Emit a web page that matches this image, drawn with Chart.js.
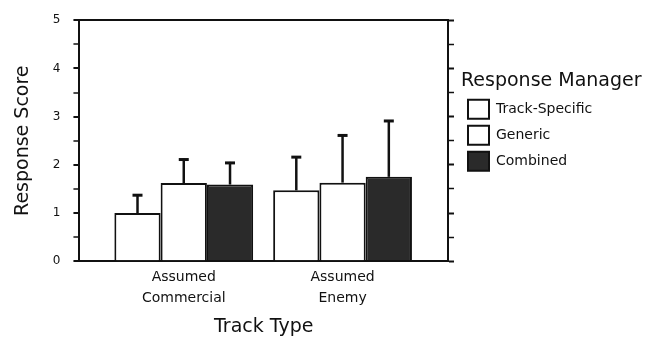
<!DOCTYPE html>
<html>
<head>
<meta charset="utf-8">
<script src="https://cdn.jsdelivr.net/npm/chart.js@4.4.1/dist/chart.umd.min.js"></script>
<style>
  html, body { margin: 0; padding: 0; background: #fff; }
  #wrap { width: 649px; height: 340px; }
</style>
</head>
<body>
<div id="wrap"><canvas id="chart"></canvas></div>
<script>
// data
const categories = [['Assumed', 'Commercial'], ['Assumed', 'Enemy']];
const seriesNames = ['Track-Specific', 'Generic', 'Combined'];
const trackSpecific = [1.00, 1.47];
const generic = [1.62, 1.63];
const combined = [1.59, 1.75];
// top of each error bar
const trackSpecificErr = [1.39, 2.18];
const genericErr = [2.13, 2.63];
const combinedErr = [2.06, 2.93];

const ink = '#111';
const font = 'DejaVu Sans';

// upward error bars with a flat cap
const errorBars = {
    id: 'errorBars',
    afterDatasetsDraw(chart) {
        const ctx = chart.ctx;
        const y = chart.scales.y;
        ctx.save();
        ctx.strokeStyle = ink;
        chart.data.datasets.forEach((ds, di) => {
            chart.getDatasetMeta(di).data.forEach((bar, i) => {
                const top = y.getPixelForValue(ds.errTop[i]);
                ctx.lineWidth = 2.5;
                ctx.beginPath();
                ctx.moveTo(bar.x, bar.y);
                ctx.lineTo(bar.x, top);
                ctx.stroke();
                ctx.lineWidth = 3;
                ctx.beginPath();
                ctx.moveTo(bar.x - 5, top + 1);
                ctx.lineTo(bar.x + 5, top + 1);
                ctx.stroke();
            });
        });
        ctx.restore();
    }
};

// legend box wide enough for its title (otherwise it gets clipped)
const wideLegend = {
    id: 'wideLegend',
    beforeLayout(chart) {
        const legend = chart.legend;
        if (!legend || legend._wide) return;
        const fit = legend.fit;
        legend.fit = function () {
            fit.call(this);
            this.width = 188;
        };
        legend._wide = true;
    }
};

const toPoints = arr => arr.map((v, i) => ({ x: i, y: v }));

const barStyle = {
    borderColor: ink,
    borderWidth: 2,
    borderSkipped: 'bottom',
    categoryPercentage: 0.874,
    barPercentage: 1
};

const minorTick = c => (c.tick && Number.isInteger(c.tick.value) ? 2 : 1.5);

new Chart(document.getElementById('chart').getContext('2d'), {
    type: 'bar',
    data: {
        datasets: [
            { label: seriesNames[0], data: toPoints(trackSpecific), errTop: trackSpecificErr, backgroundColor: '#fff', ...barStyle },
            { label: seriesNames[1], data: toPoints(generic), errTop: genericErr, backgroundColor: '#fff', ...barStyle },
            { label: seriesNames[2], data: toPoints(combined), errTop: combinedErr, backgroundColor: '#2a2a2a', ...barStyle }
        ]
    },
    options: {
        responsive: true,
        maintainAspectRatio: false,
        animation: false,
        layout: { padding: { left: 12, right: 0, top: 19, bottom: 2 } },
        scales: {
            x: {
                type: 'linear',
                offset: false,
                min: -0.657,
                max: 1.664,
                afterBuildTicks: s => { s.ticks = categories.map((_, i) => ({ value: i })); },
                grid: { display: false },
                border: { display: true, color: ink, width: 2 },
                ticks: {
                    autoSkip: false,
                    maxRotation: 0,
                    padding: -2,
                    color: ink,
                    font: { family: font, size: 14, lineHeight: 1.5 },
                    callback: v => categories[v]
                },
                title: {
                    display: true,
                    text: 'Track Type',
                    color: ink,
                    font: { family: font, size: 19 },
                    padding: { top: 8, bottom: 0 }
                }
            },
            y: {
                min: 0,
                max: 5,
                ticks: {
                    stepSize: 0.5,
                    padding: 13,
                    color: ink,
                    font: { family: font, size: 12 },
                    callback: v => (Number.isInteger(v) ? v : '')
                },
                grid: {
                    drawOnChartArea: true,
                    color: c => (c.tick && c.tick.value === 5 ? ink : 'transparent'),
                    lineWidth: 2,
                    tickColor: ink,
                    tickLength: 6,
                    tickWidth: minorTick
                },
                border: { display: true, color: ink, width: 2 },
                title: {
                    display: true,
                    text: 'Response Score',
                    color: ink,
                    font: { family: font, size: 19 },
                    padding: { top: 0, bottom: 5 }
                }
            },
            y2: {
                position: 'right',
                min: 0,
                max: 5,
                afterFit: s => { s.width = 13; },
                ticks: { display: false, stepSize: 0.5 },
                grid: { drawOnChartArea: false, tickColor: ink, tickLength: 6, tickWidth: minorTick },
                border: { display: true, color: ink, width: 2 }
            }
        },
        plugins: {
            legend: {
                position: 'right',
                align: 'start',
                title: {
                    display: true,
                    text: 'Response Manager',
                    color: ink,
                    position: 'start',
                    font: { family: font, size: 19 },
                    padding: { top: 53, bottom: -2 }
                },
                labels: {
                    boxWidth: 21,
                    boxHeight: 19,
                    padding: 7,
                    color: ink,
                    font: { family: font, size: 14 }
                }
            },
            tooltip: { enabled: false }
        }
    },
    plugins: [errorBars, wideLegend]
});
</script>
</body>
</html>
